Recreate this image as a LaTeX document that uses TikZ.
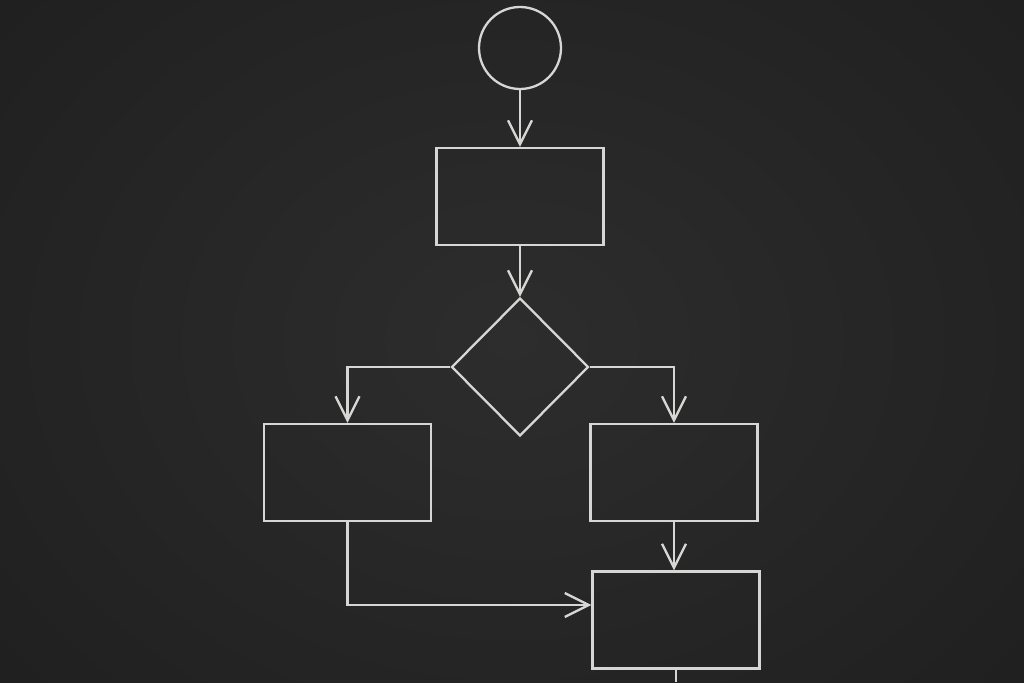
\documentclass[tikz,border=0pt]{standalone}
\usepackage{tikz}
\usetikzlibrary{positioning,shapes.geometric,arrows.meta}
\definecolor{chalk}{HTML}{D6D6D4}
\definecolor{slate}{HTML}{2D2D2D}
\definecolor{slatedark}{HTML}{1F1F1F}
\tikzset{
  chalkline/.style={
    draw=chalk,
    line width=2.3pt
  },
  stepbox/.style={
    chalkline,
    minimum width=167pt,
    minimum height=97pt,
    inner sep=0pt
  },
  flow/.style={
    chalkline,
    -{Straight Barb[length=24pt,width=24pt,line width=2.3pt]}
  }
}

\begin{document}
\begin{tikzpicture}[x=1pt,y=1pt]
      \useasboundingbox (0,-682) rectangle (1024,0);
      \shade[inner color=slate, outer color=slatedark] (-200,-900) rectangle (1224,220);
      \node[chalkline, circle, minimum size=82pt, inner sep=0pt] (Start) at (520,-48) {};
      \node[on grid, below=148.5pt of Start, stepbox] (Task) {};
      \node[on grid, below=170.5pt of Task, chalkline, diamond,
      minimum width=137pt, minimum height=138pt, inner sep=0pt] (Decide) {};
      \node[on grid, below left=105.5pt and 172.5pt of Decide, stepbox] (Left) {};
      \node[on grid, below right=105.5pt and 154pt of Decide, stepbox] (Right) {};
      \node[on grid, below right=147.5pt and 2pt of Right, stepbox] (Merge) {};
      \coordinate (Join) at ([yshift=15pt]Merge.west);
      \coordinate (Exit) at (Merge.south |- 0,-682);

      \draw[flow] (Start) -- (Task);
      \draw[flow] (Task) -- (Decide);
      \draw[flow] (Decide.west) -| (Left);
      \draw[flow] (Decide.east) -| (Right);
      \draw[flow] (Right.south) -- (Right.south |- Merge.north);
      \draw[flow] (Left.south) |- (Join);
      \draw[chalkline] (Merge.south) -- (Exit);
    \end{tikzpicture}
\end{document}
